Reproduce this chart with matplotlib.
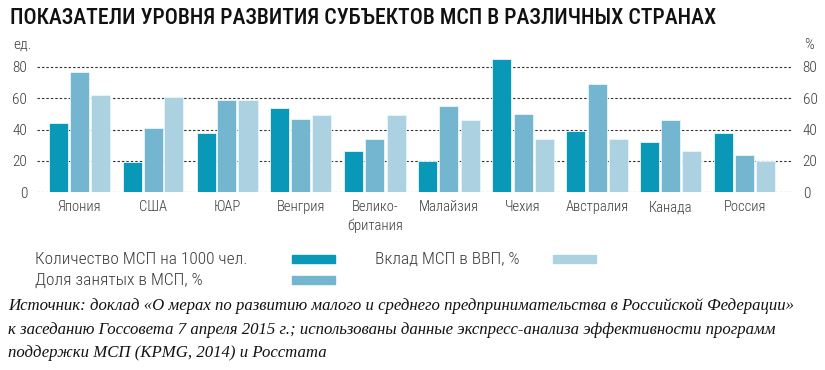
import numpy as np
import matplotlib
matplotlib.use('Agg')
import matplotlib.pyplot as plt
from matplotlib import font_manager
from matplotlib.patches import Rectangle

# Data
countries = ['Япония', 'США', 'ЮАР', 'Венгрия', 'Велико-\nбритания',
             'Малайзия', 'Чехия', 'Австралия', 'Канада', 'Россия']
smes_per_1000 = [44, 19, 38, 54, 26, 20, 85, 39, 32, 38]
employment_share = [77, 41, 59, 47, 34, 55, 50, 69, 46, 24]
gdp_share = [62, 61, 59, 49, 49, 46, 34, 34, 26, 20]
y_ticks = [0, 20, 40, 60, 80]
series_labels = ['Количество МСП на 1000 чел.', 'Доля занятых в МСП, %', 'Вклад МСП в ВВП, %']

colors = ['#0a98b8', '#74b6d0', '#acd2e2']

available = {f.name for f in font_manager.fontManager.ttflist}


def pick(names):
    for n in names:
        if n in available:
            return n
    return 'DejaVu Sans'


sans = pick(['Liberation Sans Narrow', 'Roboto Condensed', 'Roboto', 'Liberation Sans'])
serif = pick(['Liberation Serif', 'DejaVu Serif'])
label_col = '#3a3a3a'

W, H = 825, 370
fig = plt.figure(figsize=(W / 100, H / 100), dpi=100)

# axes placed in pixel terms: x from 37 to 793, y=0 at 192 px, 1.5625 px per unit
ymax = 88
top_px = 192 - ymax * 1.5625
ax = fig.add_axes([37 / W, 1 - 192 / H, (793 - 37) / W, (192 - top_px) / H])

x = np.arange(len(countries))
step = 74.0
bw = 19 / step
off = 21 / step
for k, vals in enumerate([smes_per_1000, employment_share, gdp_share]):
    ax.bar(x + (k - 1) * off, vals, width=bw, color=colors[k],
           edgecolor='#e8f6fa', linewidth=0.6, zorder=3)

ax.set_xlim((37 - 79) / step, (793 - 79) / step)
ax.set_ylim(0, ymax)
ax.set_yticks(y_ticks)
for yv in y_ticks:
    ax.axhline(yv, color='#333333', linewidth=0.8, linestyle=(0, (2.2, 1.8)), zorder=1)
for s in ax.spines.values():
    s.set_visible(False)
ax.tick_params(axis='y', length=0, labelleft=True, labelright=True, pad=7)
ax.tick_params(axis='x', length=0, pad=6)
ax.set_xticks(x)
ax.set_xticklabels(countries, linespacing=1.4)
for lab in ax.get_xticklabels():
    lab.set_fontfamily(sans)
    lab.set_fontsize(10.5)
    lab.set_color(label_col)
    lab.set_fontweight('light')
for t in ax.yaxis.get_major_ticks():
    for lab in (t.label1, t.label2):
        lab.set_fontfamily(sans)
        lab.set_fontsize(11)
        lab.set_color(label_col)
        lab.set_fontweight('light')

fig.text(13 / W, 1 - 45 / H, 'ед.', fontsize=11, color=label_col,
         family=sans, weight='light', va='center', ha='left')
fig.text(814 / W, 1 - 45 / H, '%', fontsize=11, color=label_col,
         family=sans, weight='light', va='center', ha='right')

title = fig.text(10 / W, 1 - 18 / H,
                 'ПОКАЗАТЕЛИ УРОВНЯ РАЗВИТИЯ СУБЪЕКТОВ МСП В РАЗЛИЧНЫХ СТРАНАХ',
                 fontsize=14, color='#111111', family=sans, weight='medium',
                 va='center', ha='left')

# legend: labels on the left, swatches on the right
leg_rows = [(35, 259, 292), (35, 280, 292), (375, 259, 553)]
leg_texts = []
for k, (tx, ty, sx) in enumerate(leg_rows):
    t = fig.text(tx / W, 1 - ty / H, series_labels[k], fontsize=10.5,
                 color=label_col, family=sans, weight='light', va='center', ha='left')
    leg_texts.append(t)
    fig.patches.append(Rectangle((sx / W, 1 - (ty + 4) / H), 43 / W, 8 / H,
                                 transform=fig.transFigure, color=colors[k]))

src_lines = [
    'Источник: доклад «О мерах по развитию малого и среднего предпринимательства в Российской Федерации»',
    'к заседанию Госсовета 7 апреля 2015 г.; использованы данные экспресс-анализа эффективности программ',
    'поддержки МСП (KPMG, 2014) и Росстата',
]
src = []
for i, line in enumerate(src_lines):
    src.append(fig.text(8 / W, 1 - (306 + 23.5 * i) / H, line, fontsize=11,
                        style='italic', color='#111111', family=serif,
                        va='center', ha='left'))

# fit widths of a few text blocks to the reference
fig.canvas.draw()
r = fig.canvas.get_renderer()


def fit(t, target):
    w = t.get_window_extent(r).width
    t.set_fontsize(t.get_fontsize() * target / w)
    return t.get_fontsize()


fit(title, 710)
fs = fit(src[0], 787)
for t in src[1:]:
    t.set_fontsize(fs)
lfs = fit(leg_texts[0], 213)
for t in leg_texts[1:]:
    t.set_fontsize(lfs)

fig.savefig('out.png', dpi=100)
